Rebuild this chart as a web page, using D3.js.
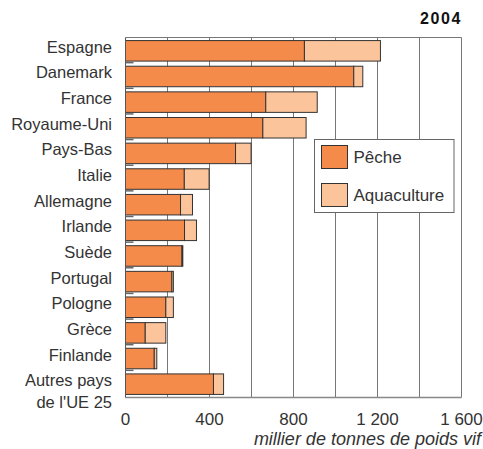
<!DOCTYPE html>
<html>
<head>
<meta charset="utf-8">
<script src="https://cdn.jsdelivr.net/npm/d3@7"></script>
<style>
  body { margin: 0; background: #fff; }
  text { font-family: "Liberation Sans", Arial, sans-serif; fill: #333; }
</style>
</head>
<body>
<svg id="chart" width="483" height="449"></svg>
<script>
var countries = ["Espagne", "Danemark", "France", "Royaume-Uni", "Pays-Bas", "Italie",
	"Allemagne", "Irlande", "Suède", "Portugal", "Pologne", "Grèce", "Finlande", "Autres pays|de l'UE 25"];
var peche = [852, 1087, 668, 654, 524, 280, 262, 281, 269, 221, 192, 94, 137, 419];
var aquaculture = [362, 43, 245, 206, 74, 118, 57, 57, 4, 7, 36, 98, 12, 48];
var xTicks = [0, 400, 800, 1200, 1600];
var gridValues = [200, 400, 600, 800, 1000, 1200, 1400, 1600];
var seriesNames = ["Pêche", "Aquaculture"];
var seriesColors = ["#f58b4a", "#fbc49a"];

var svg = d3.select("#chart");

var x = d3.scaleLinear().domain([0, 1600]).range([125.5, 461.5]);
var y = d3.scaleBand().domain(countries).range([37.5, 397.5])
	.paddingInner(0.2).paddingOuter(0.12);

var fmt = function(v) {
	// thousands separated by a space, French style
	return v >= 1000 ? Math.floor(v / 1000) + " " + d3.format("03d")(v % 1000) : String(v);
};

// gridlines behind the bars
svg.append("g").selectAll("line.grid")
	.data(gridValues)
	.enter()
	.append("line")
	.attr("x1", function(d) { return x(d); })
	.attr("x2", function(d) { return x(d); })
	.attr("y1", 37.5)
	.attr("y2", 397.5)
	.attr("stroke", "#777")
	.attr("stroke-width", 1);

// frame: top and bottom
svg.append("line")
	.attr("x1", x(0)).attr("x2", x(1600))
	.attr("y1", 37.5).attr("y2", 37.5)
	.attr("stroke", "#777");
svg.append("line")
	.attr("x1", x(0)).attr("x2", x(1600))
	.attr("y1", 397.5).attr("y2", 397.5)
	.attr("stroke", "#888").attr("stroke-width", 1.5);

var rows = countries.map(function(c, i) {
	return {name: c, peche: peche[i], aqua: aquaculture[i]};
});

var bars = svg.append("g").selectAll("g.row")
	.data(rows)
	.enter()
	.append("g")
	.classed("row", true);

bars.append("rect")
	.attr("x", x(0))
	.attr("y", function(d) { return y(d.name); })
	.attr("width", function(d) { return x(d.peche) - x(0); })
	.attr("height", y.bandwidth())
	.attr("fill", seriesColors[0])
	.attr("stroke", "#333")
	.attr("stroke-width", 1);

bars.append("rect")
	.attr("x", function(d) { return x(d.peche); })
	.attr("y", function(d) { return y(d.name); })
	.attr("width", function(d) { return x(d.peche + d.aqua) - x(d.peche); })
	.attr("height", y.bandwidth())
	.attr("fill", seriesColors[1])
	.attr("stroke", "#333")
	.attr("stroke-width", 1);

// left axis line
svg.append("line")
	.attr("x1", x(0)).attr("x2", x(0))
	.attr("y1", 37.5).attr("y2", 397.5)
	.attr("stroke", "#555");

// short ticks between rows
svg.append("g").selectAll("line.sep")
	.data(countries.slice(1))
	.enter()
	.append("line")
	.attr("x1", x(0))
	.attr("x2", x(0) + 8)
	.attr("y1", function(d) { return y(d) - y.step() * y.paddingInner() / 2 - 1; })
	.attr("y2", function(d) { return y(d) - y.step() * y.paddingInner() / 2 - 1; })
	.attr("stroke", "#666")
	.attr("stroke-width", 1.5);

// category labels
var labels = svg.append("g").selectAll("text.cat")
	.data(countries)
	.enter()
	.append("text")
	.attr("x", 112)
	.attr("y", function(d) { return y(d) + y.bandwidth() / 2 + 2; })
	.attr("text-anchor", "end")
	.style("font-size", "16.5px");
labels.each(function(d) {
	var parts = d.split("|");
	var t = d3.select(this);
	parts.forEach(function(p, i) {
		t.append("tspan").attr("x", 112).attr("dy", i === 0 ? 0 : 21.5).text(p);
	});
});

// x tick labels
svg.append("g").selectAll("text.tick")
	.data(xTicks)
	.enter()
	.append("text")
	.attr("x", function(d) { return x(d); })
	.attr("y", 424.5)
	.attr("text-anchor", "middle")
	.style("font-size", "17px")
	.text(fmt);

svg.append("text")
	.attr("x", 481)
	.attr("y", 444.5)
	.attr("text-anchor", "end")
	.style("font-size", "18px")
	.style("font-style", "italic")
	.text("millier de tonnes de poids vif");

svg.append("text")
	.attr("x", 462)
	.attr("y", 23.5)
	.attr("text-anchor", "end")
	.style("font-size", "16px")
	.style("font-weight", "bold")
	.style("letter-spacing", "1.6px")
	.style("fill", "#111")
	.text("2004");

// legend
var legend = svg.append("g").attr("transform", "translate(314.5,139.5)");
legend.append("rect")
	.attr("width", 139.5)
	.attr("height", 73)
	.attr("fill", "#fff")
	.attr("stroke", "#666");
var items = legend.selectAll("g.item")
	.data(seriesNames)
	.enter()
	.append("g")
	.attr("transform", function(d, i) { return "translate(7," + (6 + i * 38) + ")"; });
items.append("rect")
	.attr("width", 26)
	.attr("height", 23)
	.attr("fill", function(d, i) { return seriesColors[i]; })
	.attr("stroke", "#333");
items.append("text")
	.attr("x", 32)
	.attr("y", 17)
	.style("font-size", "17px")
	.text(function(d) { return d; });
</script>
</body>
</html>
